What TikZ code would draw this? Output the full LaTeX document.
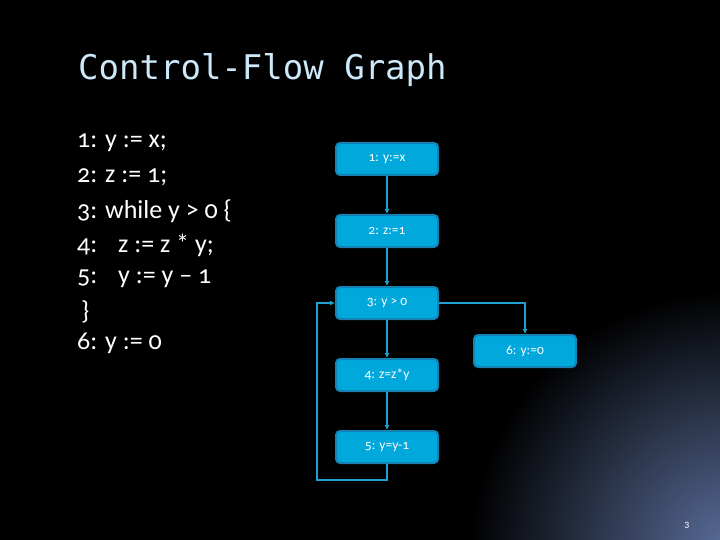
\documentclass[tikz,border=0pt]{standalone}
\usepackage{fontspec}
\setmainfont[Numbers=OldStyle]{Carlito}
\newfontfamily\titlefont{DejaVu Sans Mono}
\usetikzlibrary{arrows.meta}
\definecolor{nodefill}{RGB}{0,168,220}
\definecolor{nodeedge}{RGB}{20,130,180}
\definecolor{edgecol}{RGB}{30,160,210}
\definecolor{titlecol}{RGB}{205,232,248}
\definecolor{cornercol}{RGB}{90,110,155}
\tikzset{
  cfg/.style={draw=nodeedge, line width=2pt, fill=nodefill, rounded corners=4pt,
    minimum width=102pt, minimum height=32pt, inner sep=0pt, text=white, font=\fontsize{13.5}{15}\selectfont},
  flow/.style={draw=edgecol, line width=1.6pt, -{Latex[length=5pt,width=5pt]}},
  code/.style={anchor=west, text=white, font=\fontsize{26}{30}\selectfont, inner sep=0pt}
}
\begin{document}
\begin{tikzpicture}[x=1pt,y=-1pt]
\useasboundingbox (0,0) rectangle (720,540);
\fill[black] (0,0) rectangle (720,540);
\begin{scope}
\clip (0,0) rectangle (720,540);
\shade[inner color=cornercol, outer color=black] (730,550) circle (260);
\end{scope}
\node[anchor=west, text=titlecol, inner sep=0pt, font=\titlefont\fontsize{34}{40}\selectfont] (title) at (78,70) {Control-Flow Graph};
\node[code] (c1) at (77,143) {1: y := x;};
\node[code] (c2) at (77,177) {2: z := 1;};
\node[code] (c3) at (77,211) {3: while y > 0 \{};
\node[code] (c4) at (77,245) {4:\hspace{0.8em}z := z * y;};
\node[code] (c5) at (77,279) {5:\hspace{0.8em}y := y – 1};
\node[code] (c6) at (81,312) {\}};
\node[code] (c7) at (77,343) {6: y := 0};
\node[cfg] (n1) at (387,159) {1: y:=x};
\node[cfg] (n2) at (387,231) {2: z:=1};
\node[cfg] (n3) at (387,303) {3: y > 0};
\node[cfg] (n4) at (387,375) {4: z=z*y};
\node[cfg] (n5) at (387,447) {5: y=y-1};
\node[cfg] (n6) at (525,351) {6: y:=0};
\coordinate (lb) at (317,480);
\coordinate (lt) at (317,303);
\draw[flow] (n1) -- (n2);
\draw[flow] (n2) -- (n3);
\draw[flow] (n3) -- (n4);
\draw[flow] (n4) -- (n5);
\draw[flow] (n3.east) -| (n6.north);
\draw[flow] (n5.south) |- (lb) -- (lt) -- (n3.west);
\node[text=white, font=\fontsize{10}{12}\selectfont, inner sep=0pt] (pg) at (687,525) {3};
\end{tikzpicture}
\end{document}
